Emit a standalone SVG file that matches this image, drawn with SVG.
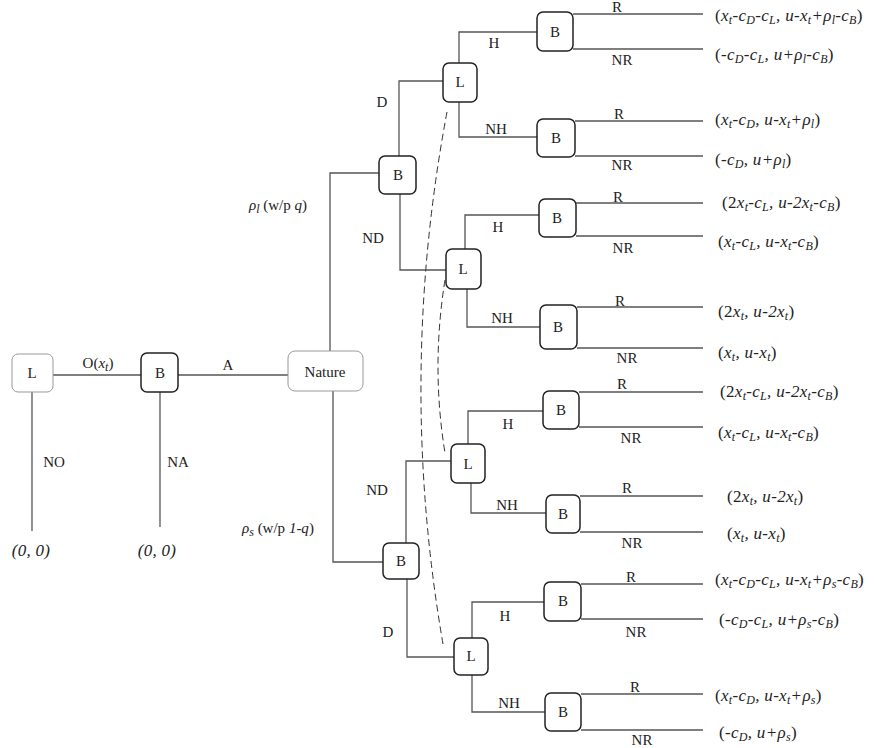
<svg xmlns="http://www.w3.org/2000/svg" width="876" height="748" viewBox="0 0 876 748" font-family="'Liberation Serif', 'DejaVu Serif', serif">
<style>
.n{fill:#fff;stroke:#222;stroke-width:1.5}
.nl{fill:#fff;stroke:#999;stroke-width:1}
text{font-family:'Liberation Serif','DejaVu Serif',serif;fill:#222}
.nt{font-size:15px;text-anchor:middle}
.lb{font-size:15px;text-anchor:middle}
.p{font-size:17px;font-style:italic;letter-spacing:0.3px}
.i{font-style:italic}
.u{font-style:normal}
.s{font-size:12px;baseline-shift:-3px}
.e{stroke:#555;stroke-width:1.3;fill:none}
.d{stroke:#333;stroke-width:1;stroke-dasharray:7 4;fill:none}
</style>
<rect width="876" height="748" fill="#fff"/>
<g id="connectors">
<path class="e" d="M53,375H141"/>
<path class="e" d="M178,375H288"/>
<path class="e" d="M32,392V531"/>
<path class="e" d="M160,392V527"/>
<path class="e" d="M330,351V173H379"/>
<path class="e" d="M333,391V562H383"/>
<path class="e" d="M399,156V81H443"/>
<path class="e" d="M400,194V270H446"/>
<path class="e" d="M459,63V32H537"/>
<path class="e" d="M459,102V137H537"/>
<path class="e" d="M573,14H703M573,49H703"/>
<path class="e" d="M575,121H703M575,156H703"/>
<path class="e" d="M465,249V215H539"/>
<path class="e" d="M467,289V327H540"/>
<path class="e" d="M576,203H703M576,236H703"/>
<path class="e" d="M577,307H703M577,348H703"/>
<path class="e" d="M406,543V461H451"/>
<path class="e" d="M407,579V657H454"/>
<path class="e" d="M468,444V411H543"/>
<path class="e" d="M471,483V513H546"/>
<path class="e" d="M579,392H703M579,427H703"/>
<path class="e" d="M580,496H703M580,532H703"/>
<path class="e" d="M472,638V602H544"/>
<path class="e" d="M472,675V712H545"/>
<path class="e" d="M581,584H703M581,619H703"/>
<path class="e" d="M581,694H703M581,730H703"/>
<path class="d" d="M447,112Q397,378 443,644"/>
<path class="d" d="M445,280Q431,367 445,453"/>
<text class="lb" x="98" y="368">O(<tspan class="i">x<tspan class="s">t</tspan></tspan>)</text>
<text class="lb" x="228" y="370">A</text>
<text class="lb" x="54" y="467">NO</text>
<text class="lb" x="178" y="467">NA</text>
<text x="249" y="210" font-size="15"><tspan class="i">ρ<tspan class="s">l</tspan></tspan> (w/p <tspan class="i">q</tspan>)</text>
<text x="242" y="533" font-size="15"><tspan class="i">ρ<tspan class="s">s</tspan></tspan> (w/p <tspan class="i">1-q</tspan>)</text>
<text class="lb" x="382" y="107">D</text>
<text class="lb" x="373" y="243">ND</text>
<text class="lb" x="377" y="495">ND</text>
<text class="lb" x="388" y="637">D</text>
<text class="lb" x="494" y="48">H</text>
<text class="lb" x="496" y="134">NH</text>
<text class="lb" x="498" y="232">H</text>
<text class="lb" x="502" y="323">NH</text>
<text class="lb" x="508" y="429">H</text>
<text class="lb" x="507" y="510">NH</text>
<text class="lb" x="505" y="621">H</text>
<text class="lb" x="509" y="708">NH</text>
<text class="lb" x="617" y="12">R</text>
<text class="lb" x="622" y="65">NR</text>
<text class="lb" x="619" y="119">R</text>
<text class="lb" x="622" y="170">NR</text>
<text class="lb" x="618" y="202">R</text>
<text class="lb" x="623" y="253">NR</text>
<text class="lb" x="620" y="306">R</text>
<text class="lb" x="627" y="363">NR</text>
<text class="lb" x="622" y="389">R</text>
<text class="lb" x="631" y="443">NR</text>
<text class="lb" x="627" y="493">R</text>
<text class="lb" x="632" y="548">NR</text>
<text class="lb" x="631" y="582">R</text>
<text class="lb" x="636" y="637">NR</text>
<text class="lb" x="635" y="692">R</text>
<text class="lb" x="642" y="745">NR</text>
</g>
<g id="payoffs">
<text class="p" x="31" y="556" text-anchor="middle">(0, 0)</text>
<text class="p" x="157" y="556" text-anchor="middle">(0, 0)</text>
<text class="p" x="715" y="21"><tspan class="u">(</tspan>x<tspan class="s">t</tspan>-c<tspan class="s">D</tspan>-c<tspan class="s">L</tspan>, u-x<tspan class="s">t</tspan>+ρ<tspan class="s">l</tspan>-c<tspan class="s">B</tspan><tspan class="u">)</tspan></text>
<text class="p" x="715" y="60"><tspan class="u">(</tspan>-c<tspan class="s">D</tspan>-c<tspan class="s">L</tspan>, u+ρ<tspan class="s">l</tspan>-c<tspan class="s">B</tspan><tspan class="u">)</tspan></text>
<text class="p" x="715" y="125"><tspan class="u">(</tspan>x<tspan class="s">t</tspan>-c<tspan class="s">D</tspan>, u-x<tspan class="s">t</tspan>+ρ<tspan class="s">l</tspan><tspan class="u">)</tspan></text>
<text class="p" x="715" y="165"><tspan class="u">(</tspan>-c<tspan class="s">D</tspan>, u+ρ<tspan class="s">l</tspan><tspan class="u">)</tspan></text>
<text class="p" x="722" y="208"><tspan class="u">(2</tspan>x<tspan class="s">t</tspan>-c<tspan class="s">L</tspan>, u-2x<tspan class="s">t</tspan>-c<tspan class="s">B</tspan><tspan class="u">)</tspan></text>
<text class="p" x="718" y="247"><tspan class="u">(</tspan>x<tspan class="s">t</tspan>-c<tspan class="s">L</tspan>, u-x<tspan class="s">t</tspan>-c<tspan class="s">B</tspan><tspan class="u">)</tspan></text>
<text class="p" x="718" y="317"><tspan class="u">(2</tspan>x<tspan class="s">t</tspan>, u-2x<tspan class="s">t</tspan><tspan class="u">)</tspan></text>
<text class="p" x="718" y="358"><tspan class="u">(</tspan>x<tspan class="s">t</tspan>, u-x<tspan class="s">t</tspan><tspan class="u">)</tspan></text>
<text class="p" x="720" y="397"><tspan class="u">(2</tspan>x<tspan class="s">t</tspan>-c<tspan class="s">L</tspan>, u-2x<tspan class="s">t</tspan>-c<tspan class="s">B</tspan><tspan class="u">)</tspan></text>
<text class="p" x="718" y="438"><tspan class="u">(</tspan>x<tspan class="s">t</tspan>-c<tspan class="s">L</tspan>, u-x<tspan class="s">t</tspan>-c<tspan class="s">B</tspan><tspan class="u">)</tspan></text>
<text class="p" x="727" y="502"><tspan class="u">(2</tspan>x<tspan class="s">t</tspan>, u-2x<tspan class="s">t</tspan><tspan class="u">)</tspan></text>
<text class="p" x="727" y="539"><tspan class="u">(</tspan>x<tspan class="s">t</tspan>, u-x<tspan class="s">t</tspan><tspan class="u">)</tspan></text>
<text class="p" x="715" y="585"><tspan class="u">(</tspan>x<tspan class="s">t</tspan>-c<tspan class="s">D</tspan>-c<tspan class="s">L</tspan>, u-x<tspan class="s">t</tspan>+ρ<tspan class="s">s</tspan>-c<tspan class="s">B</tspan><tspan class="u">)</tspan></text>
<text class="p" x="719" y="625"><tspan class="u">(</tspan>-c<tspan class="s">D</tspan>-c<tspan class="s">L</tspan>, u+ρ<tspan class="s">s</tspan>-c<tspan class="s">B</tspan><tspan class="u">)</tspan></text>
<text class="p" x="715" y="701"><tspan class="u">(</tspan>x<tspan class="s">t</tspan>-c<tspan class="s">D</tspan>, u-x<tspan class="s">t</tspan>+ρ<tspan class="s">s</tspan><tspan class="u">)</tspan></text>
<text class="p" x="719" y="738"><tspan class="u">(</tspan>-c<tspan class="s">D</tspan>, u+ρ<tspan class="s">s</tspan><tspan class="u">)</tspan></text>
</g>
<g id="L0"><rect class="nl" x="12" y="354" width="41" height="38" rx="6"/><text class="nt" x="32" y="378">L</text></g>
<g id="B0"><rect class="n" x="141" y="353" width="37" height="39" rx="6"/><text class="nt" x="160" y="378">B</text></g>
<g id="Nature"><rect class="nl" x="288" y="351" width="75" height="40" rx="7"/><text class="nt" x="325" y="377">Nature</text></g>
<g id="B1"><rect class="n" x="379" y="156" width="37" height="38" rx="6"/><text class="nt" x="398" y="180">B</text></g>
<g id="B2"><rect class="n" x="383" y="543" width="36" height="36" rx="6"/><text class="nt" x="401" y="566">B</text></g>
<g id="L1"><rect class="n" x="443" y="63" width="34" height="39" rx="6"/><text class="nt" x="460" y="87">L</text></g>
<g id="L2"><rect class="n" x="446" y="249" width="35" height="40" rx="6"/><text class="nt" x="463" y="274">L</text></g>
<g id="L3"><rect class="n" x="451" y="444" width="34" height="39" rx="6"/><text class="nt" x="468" y="469">L</text></g>
<g id="L4"><rect class="n" x="454" y="638" width="34" height="37" rx="6"/><text class="nt" x="471" y="661">L</text></g>
<g id="B11"><rect class="n" x="537" y="12" width="36" height="39" rx="6"/><text class="nt" x="555" y="37">B</text></g>
<g id="B12"><rect class="n" x="537" y="119" width="38" height="38" rx="6"/><text class="nt" x="556" y="143">B</text></g>
<g id="B21"><rect class="n" x="539" y="199" width="37" height="38" rx="6"/><text class="nt" x="557" y="223">B</text></g>
<g id="B22"><rect class="n" x="540" y="305" width="37" height="44" rx="6"/><text class="nt" x="558" y="332">B</text></g>
<g id="B31"><rect class="n" x="543" y="391" width="36" height="38" rx="6"/><text class="nt" x="561" y="415">B</text></g>
<g id="B32"><rect class="n" x="546" y="495" width="34" height="38" rx="6"/><text class="nt" x="563" y="519">B</text></g>
<g id="B41"><rect class="n" x="544" y="582" width="37" height="39" rx="6"/><text class="nt" x="563" y="606">B</text></g>
<g id="B42"><rect class="n" x="545" y="693" width="36" height="38" rx="6"/><text class="nt" x="563" y="717">B</text></g>
</svg>
